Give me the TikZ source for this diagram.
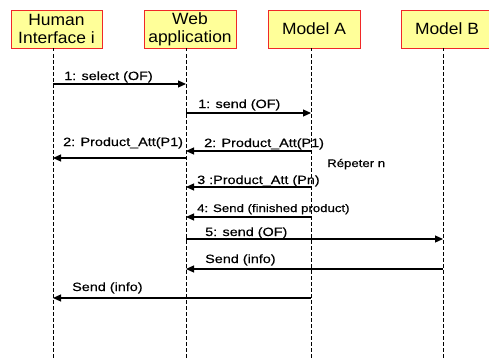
\documentclass[tikz,border=0pt]{standalone}
\usepackage{fontspec}
\setmainfont{Liberation Sans}
\newfontfamily\boxfont[FakeStretch=1.07]{Liberation Sans}
\newfontfamily\lblfont[FakeStretch=1.2,FakeBold=0.4]{Liberation Sans}
\usetikzlibrary{arrows.meta}
\definecolor{boxfill}{RGB}{255,255,153}
\definecolor{boxline}{RGB}{240,40,40}
\begin{document}
\begin{tikzpicture}[x=1pt,y=-1pt,
  actor/.style={draw=boxline,fill=boxfill,line width=0.9pt,minimum height=38pt,inner sep=0pt,
    font=\boxfont\fontsize{16.3}{18}\selectfont,align=center},
  life/.style={line width=0.9pt,dash pattern=on 3.5pt off 2.5pt},
  msg/.style={line width=1.2pt,-{Triangle[length=8pt,width=7pt]}},
  lbl/.style={anchor=base west,inner sep=0pt,font=\lblfont\fontsize{12}{13}\selectfont},
  lbls/.style={anchor=base west,inner sep=0pt,font=\lblfont\fontsize{11}{13}\selectfont}]
\useasboundingbox (0,0) rectangle (489,361);
\clip (0,0) rectangle (489,361);
% actors
\node[actor,minimum width=91pt] (hi) at (56.5,29) {Human\\Interface i};
\node[actor,minimum width=92pt] (wa) at (190,29) {Web\\application};
\node[actor,minimum width=92pt] (ma) at (314,29) {Model A};
\node[actor,minimum width=92pt] (mb) at (447,29) {Model B};
% lifelines
\coordinate (hl) at (53,48);  \coordinate (hlb) at (53,358);
\coordinate (wl) at (186,48); \coordinate (wlb) at (186,358);
\coordinate (al) at (311,48); \coordinate (alb) at (311,358);
\coordinate (bl) at (443,48); \coordinate (blb) at (443,358);
\draw[life] (hl) -- (hlb);
\draw[life] (wl) -- (wlb);
\draw[life] (al) -- (alb);
\draw[life] (bl) -- (blb);
% messages
\draw[msg] (hl |- 0,84) -- (wl |- 0,84);
\node[lbl] (m1) at (64,80) {1: select (OF)};
\draw[msg] (wl |- 0,113) -- (al |- 0,113);
\node[lbl] (m2) at (198,108) {1: send (OF)};
\draw[msg] (al |- 0,151) -- (wl |- 0,151);
\node[lbl] (m3) at (204,147) {2: Product\_Att(P1)};
\draw[msg] (wl |- 0,158) -- (hl |- 0,158);
\node[lbl] (m4) at (63,146) {2: Product\_Att(P1)};
\node[lbls] (rep) at (327,167) {Répeter n};
\draw[msg] (al |- 0,187) -- (wl |- 0,187);
\node[lbl] (m5) at (197,184) {3 :Product\_Att (Pn)};
\draw[msg] (al |- 0,217) -- (wl |- 0,217);
\node[lbls] (m6) at (197,212) {4: Send (finished product)};
\draw[msg] (wl |- 0,239) -- (bl |- 0,239);
\node[lbl] (m7) at (205,236) {5: send (OF)};
\draw[msg] (bl |- 0,269) -- (wl |- 0,269);
\node[lbl] (m8) at (205,263) {Send (info)};
\draw[msg] (al |- 0,298) -- (hl |- 0,298);
\node[lbl] (m9) at (72,291) {Send (info)};
\end{tikzpicture}
\end{document}
